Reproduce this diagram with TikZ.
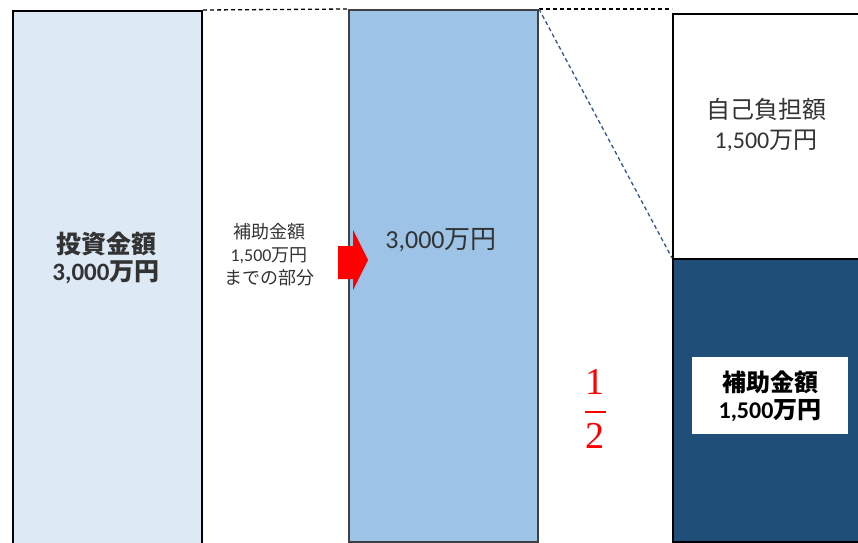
\documentclass[tikz,border=0pt]{standalone}
\usepackage{fontspec}
\setmainfont{Carlito}
\newfontfamily\jp{Noto Sans CJK JP}
\newfontfamily\serif{Liberation Serif}
\definecolor{lightbox}{HTML}{DDEAF6}
\definecolor{midbox}{HTML}{9DC3E6}
\definecolor{darkbox}{HTML}{1F4E79}
\definecolor{diag}{HTML}{2F5597}
\begin{document}
\begin{tikzpicture}[x=1pt,y=-1pt,
  col/.style={draw, line width=2pt, anchor=north west, inner sep=0pt},
  dash line/.style={dashed, line width=1.3pt, dash pattern=on 4pt off 3pt},
  lbl/.style={align=center, inner sep=0pt, text=black!80}]
\useasboundingbox (0,0) rectangle (858,542);
\clip (0,0) rectangle (858,542);
% boxes
\node[col, fill=lightbox, minimum width=189, minimum height=545] (inv) at (12,10) {};
\node[col, draw=black!75, fill=midbox, minimum width=189, minimum height=532] (mid) at (348,9) {};
\node[col, fill=white, minimum width=190, minimum height=245] (own) at (672,13) {};
\node[col, fill=darkbox, minimum width=190, minimum height=283] (sub) at (672,258) {};
% dashed connectors
\draw[dash line] (inv.north east) -- (mid.north west);
\draw[dash line] (mid.north east) -- (own.north west |- mid.north east);
\draw[dash line, draw=diag] (mid.north east) -- (sub.north west);
% red arrow
\fill[red] (338,246) -- (353,246) -- (353,230) -- (368,260) -- (353,290) -- (353,279) -- (338,279) -- cycle;
% texts
\node[lbl, font=\fontsize{25}{27}\selectfont\bfseries] (t1) at (106,258) {{\jp 投資金額}\\3,000{\jp 万円}};
\node[lbl, font=\fontsize{18}{23}\selectfont] (t2) at (269,255) {{\jp 補助金額}\\1,500{\jp 万円}\\{\jp までの部分}};
\node[lbl, font=\fontsize{26}{27}\selectfont] (t3) at (441,240) {3,000{\jp 万円}};
\node[lbl, font=\fontsize{24}{30}\selectfont] (t4) at (766,125) {{\jp 自己負担額}\\1,500{\jp 万円}};
\node[fill=white, minimum width=156, minimum height=77, anchor=north west, inner sep=0pt] (wb) at (692,357) {};
\node[lbl, text=black, font=\fontsize{24}{27}\selectfont\bfseries] (t5) at (770,396) {{\jp 補助金額}\\1,500{\jp 万円}};
% fraction
\node[text=red, font=\serif\fontsize{38}{38}\selectfont, inner sep=0pt] (num) at (595,382) {1};
\node[text=red, font=\serif\fontsize{38}{38}\selectfont, inner sep=0pt] (den) at (595,436) {2};
\draw[red, line width=2.2pt] (585,412) -- (606,412);
\end{tikzpicture}
\end{document}
